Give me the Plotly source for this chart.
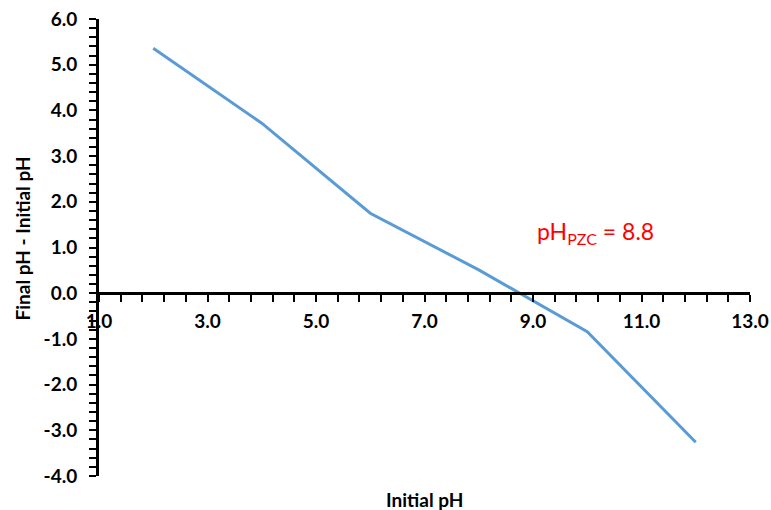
import plotly.graph_objects as go

# Point of zero charge titration: change in pH versus initial pH
initial_ph = [2, 4, 6, 8, 10, 12]
delta_ph = [5.36, 3.72, 1.75, 0.51, -0.84, -3.26]

x_ticks = [1, 3, 5, 7, 9, 11, 13]
y_ticks = [-4, -3, -2, -1, 0, 1, 2, 3, 4, 5, 6]

FONT = "Lato"

fig = go.Figure()
fig.add_trace(go.Scatter(
    x=initial_ph, y=delta_ph, mode="lines",
    line=dict(color="#5B9BD5", width=3),
    showlegend=False, hoverinfo="skip",
))

fig.update_layout(
    width=771, height=510,
    margin=dict(l=99, r=21, t=19, b=34),
    paper_bgcolor="white", plot_bgcolor="white",
    xaxis=dict(
        range=[1, 13], tickvals=x_ticks,
        ticktext=[f"{v:.1f}" for v in x_ticks],
        showgrid=False, zeroline=False, automargin=False,
        showline=True, linecolor="black", linewidth=3,
        ticks="outside", ticklen=7, tickwidth=2, tickcolor="black",
        minor=dict(ticks="outside", dtick=0.4, tick0=1, ticklen=7,
                   tickwidth=2, tickcolor="black"),
        tickfont=dict(family=FONT, size=19, color="black", weight="bold"),
        ticklabelstandoff=3,
        anchor="free", position=0.4,
    ),
    yaxis=dict(
        range=[-4, 6], tickvals=y_ticks,
        ticktext=[f"{v:.1f}" for v in y_ticks],
        showgrid=False, zeroline=False, automargin=False,
        showline=True, linecolor="black", linewidth=3,
        ticks="outside", ticklen=7, tickwidth=2, tickcolor="black",
        minor=dict(ticks="outside", dtick=0.2, tick0=0, ticklen=7,
                   tickwidth=2, tickcolor="black"),
        tickfont=dict(family=FONT, size=19, color="black", weight="bold"),
        ticklabelstandoff=8,
    ),
    annotations=[
        dict(text="<b>Initial pH</b>", xref="paper", yref="paper",
             x=0.5, y=-0.052, xanchor="center", yanchor="middle",
             showarrow=False, font=dict(family=FONT, size=19, color="black")),
        dict(text="<b>Final pH - Initial pH</b>", xref="paper", yref="paper",
             x=-0.118, y=0.52, xanchor="center", yanchor="middle",
             textangle=-90, showarrow=False,
             font=dict(family=FONT, size=19, color="black")),
        dict(text="pH<sub>PZC</sub> = 8.8", xref="x", yref="y",
             x=9.04, y=1.32, xanchor="left", yanchor="middle",
             showarrow=False, font=dict(family=FONT, size=23, color="#FF0000")),
    ],
)

fig.write_html("out.html")
